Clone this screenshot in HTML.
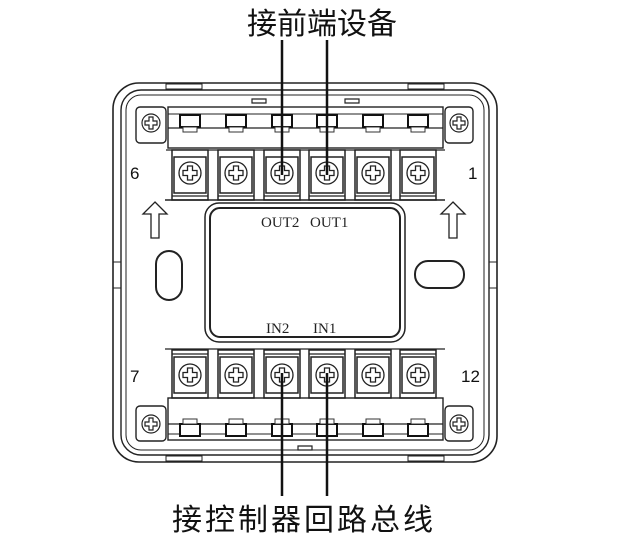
<!DOCTYPE html>
<html><head><meta charset="utf-8"><style>
html,body{margin:0;padding:0;background:#fff;width:620px;height:538px;overflow:hidden}
svg{display:block}
text{font-family:"Liberation Serif","Noto Serif CJK SC",serif;fill:#222}
.cjk{font-family:"Liberation Sans","Noto Sans CJK SC",sans-serif;fill:#111}
</style></head><body>
<svg width="620" height="538" viewBox="0 0 620 538" xmlns="http://www.w3.org/2000/svg">
<defs>
<g id="scr"><circle r="11" fill="#fff" stroke="#222" stroke-width="1.3"/><path d="M-2.5,-7h5v4.5h4.5v5h-4.5v4.5h-5v-4.5h-4.5v-5h4.5z" fill="none" stroke="#222" stroke-width="1.3"/></g>
<g id="sscr"><circle r="9" fill="#fff" stroke="#222" stroke-width="1.2"/><path d="M-2,-6h4v4h4v4h-4v4h-4v-4h-4v-4h4z" fill="none" stroke="#222" stroke-width="1.2"/></g>
<g id="blk">
<rect x="-18" y="-23" width="36" height="50" fill="#fff" stroke="#222" stroke-width="1.5"/>
<rect x="-16" y="-16" width="32" height="36" fill="#fff" stroke="#222" stroke-width="1.5"/>
<line x1="-18" y1="23" x2="18" y2="23" stroke="#222" stroke-width="1.2"/>
<use href="#scr"/>
</g>
<g id="blkb">
<rect x="-18" y="-25" width="36" height="48" fill="#fff" stroke="#222" stroke-width="1.5"/>
<rect x="-16" y="-18" width="32" height="36" fill="#fff" stroke="#222" stroke-width="1.5"/>
<line x1="-18" y1="-21" x2="18" y2="-21" stroke="#222" stroke-width="1.2"/>
<use href="#scr"/>
</g>
<g id="tab"><rect x="-10" y="-6" width="20" height="12" fill="#fff" stroke="#111" stroke-width="2"/><rect x="-7" y="6" width="14" height="5" fill="#fff" stroke="#333" stroke-width="1"/></g>
<g id="tabb"><rect x="-10" y="-6" width="20" height="12" fill="#fff" stroke="#111" stroke-width="2"/><rect x="-7" y="-11" width="14" height="5" fill="#fff" stroke="#333" stroke-width="1"/></g>
</defs>

<text class="cjk" x="322" y="34" font-size="30" text-anchor="middle">接前端设备</text>
<text class="cjk" x="304" y="530" font-size="30" text-anchor="middle" letter-spacing="3">接控制器回路总线</text>

<g fill="none" stroke="#222">
<rect x="113" y="83" width="384" height="379" rx="26" stroke-width="1.6"/>
<rect x="121" y="90" width="368" height="365" rx="20" stroke-width="1.4"/>
<rect x="126" y="95" width="358" height="355" rx="15" stroke-width="1"/>
<rect x="166" y="84" width="36" height="5" stroke-width="1"/>
<rect x="408" y="84" width="36" height="5" stroke-width="1"/>
<rect x="166" y="456" width="36" height="5" stroke-width="1"/>
<rect x="408" y="456" width="36" height="5" stroke-width="1"/>
<line x1="113" y1="262" x2="121" y2="262" stroke-width="1"/><line x1="113" y1="288" x2="121" y2="288" stroke-width="1"/>
<line x1="489" y1="262" x2="497" y2="262" stroke-width="1"/><line x1="489" y1="288" x2="497" y2="288" stroke-width="1"/>
</g>

<g fill="none" stroke="#222" stroke-width="1.4">
<rect x="168" y="107" width="275" height="41"/>
<line x1="168" y1="114" x2="443" y2="114" stroke-width="1"/>
<line x1="168" y1="128" x2="443" y2="128" stroke-width="1.2"/>
<rect x="136" y="107" width="30" height="36" rx="4"/>
<rect x="445" y="107" width="28" height="36" rx="4"/>
<path d="M252,99h14v4h-14z M345,99h14v4h-14z" stroke-width="1.2"/>
</g>
<use href="#sscr" x="151" y="123"/><use href="#sscr" x="459" y="123"/>
<use href="#tab" x="190" y="121"/><use href="#tab" x="236" y="121"/><use href="#tab" x="282" y="121"/><use href="#tab" x="327" y="121"/><use href="#tab" x="373" y="121"/><use href="#tab" x="418" y="121"/>
<line x1="166" y1="150" x2="445" y2="150" stroke="#222" stroke-width="1.2"/>
<use href="#blk" x="190" y="173"/><use href="#blk" x="236" y="173"/><use href="#blk" x="282" y="173"/><use href="#blk" x="327" y="173"/><use href="#blk" x="373" y="173"/><use href="#blk" x="418" y="173"/>
<line x1="165" y1="200" x2="445" y2="200" stroke="#222" stroke-width="1.6"/>

<line x1="165" y1="349" x2="445" y2="349" stroke="#222" stroke-width="1.2"/>
<use href="#blkb" x="190" y="375"/><use href="#blkb" x="236" y="375"/><use href="#blkb" x="282" y="375"/><use href="#blkb" x="327" y="375"/><use href="#blkb" x="373" y="375"/><use href="#blkb" x="418" y="375"/>
<g fill="none" stroke="#222" stroke-width="1.4">
<rect x="168" y="398" width="275" height="42"/>
<line x1="168" y1="424" x2="443" y2="424" stroke-width="1.2"/>
<line x1="168" y1="434" x2="443" y2="434" stroke-width="1"/>
<rect x="136" y="406" width="30" height="35" rx="4"/>
<rect x="445" y="406" width="28" height="35" rx="4"/>
<path d="M298,446h14v4h-14z" stroke-width="1.2"/>
</g>
<use href="#sscr" x="151" y="424"/><use href="#sscr" x="459" y="424"/>
<use href="#tabb" x="190" y="430"/><use href="#tabb" x="236" y="430"/><use href="#tabb" x="282" y="430"/><use href="#tabb" x="327" y="430"/><use href="#tabb" x="373" y="430"/><use href="#tabb" x="418" y="430"/>

<g fill="none" stroke="#222">
<rect x="205" y="203" width="200" height="139" rx="14" stroke-width="1.5"/>
<rect x="210" y="208" width="190" height="129" rx="10" stroke-width="2"/>
</g>
<text x="261" y="227" font-size="15">OUT2</text>
<text x="310" y="227" font-size="15">OUT1</text>
<text x="266" y="333" font-size="15">IN2</text>
<text x="313" y="333" font-size="15">IN1</text>

<text class="cjk" x="130" y="179" font-size="17">6</text>
<text class="cjk" x="468" y="179" font-size="17">1</text>
<text class="cjk" x="130" y="382" font-size="17">7</text>
<text class="cjk" x="461" y="382" font-size="17">12</text>

<g fill="#fff" stroke="#222" stroke-width="1.3">
<path d="M155,202 L167,214 H159 V238 H151 V214 H143 Z"/>
<path d="M453,202 L465,214 H457 V238 H449 V214 H441 Z"/>
<rect x="156" y="251" width="26" height="49" rx="13" stroke-width="2"/>
<rect x="415" y="261" width="49" height="27" rx="13" stroke-width="2"/>
</g>

<g stroke="#111" stroke-width="2.5">
<line x1="282" y1="40" x2="282" y2="175"/>
<line x1="327" y1="40" x2="327" y2="175"/>
<line x1="282" y1="373" x2="282" y2="496"/>
<line x1="327" y1="373" x2="327" y2="496"/>
</g>
</svg>
</body></html>
